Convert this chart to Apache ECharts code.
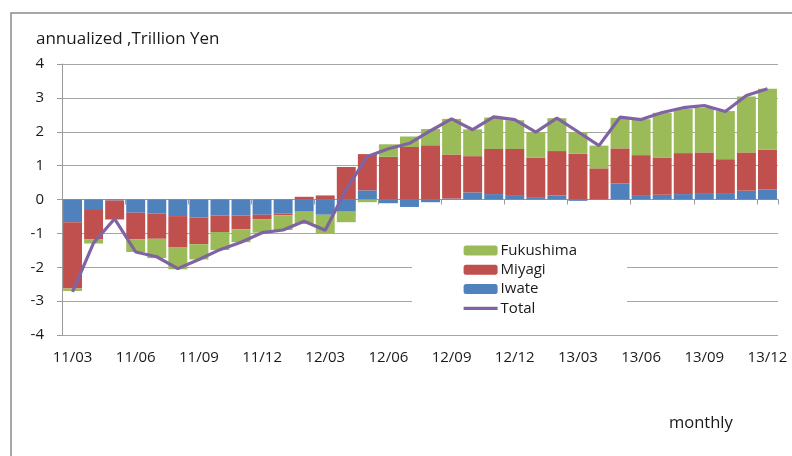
<!DOCTYPE html>
<html>
<head>
<meta charset="utf-8">
<script src="https://cdn.jsdelivr.net/npm/echarts@6/dist/echarts.min.js"></script>
<style>
html,body{margin:0;padding:0;background:#fff;}
#chart{width:792px;height:456px;}
</style>
</head>
<body>
<div id="chart"></div>
<script>
var categories = ['11/03','11/04','11/05','11/06','11/07','11/08','11/09','11/10','11/11','11/12',
  '12/01','12/02','12/03','12/04','12/05','12/06','12/07','12/08','12/09','12/10','12/11','12/12',
  '13/01','13/02','13/03','13/04','13/05','13/06','13/07','13/08','13/09','13/10','13/11','13/12'];

var iwate = [-0.67,-0.31,-0.03,-0.39,-0.41,-0.49,-0.53,-0.47,-0.47,-0.45,-0.41,-0.36,-0.45,-0.36,
  0.27,-0.11,-0.22,-0.08,0.03,0.21,0.16,0.13,0.07,0.12,-0.04,0,0.47,0.13,0.14,0.16,0.19,0.19,0.26,0.30];

var miyagi = [-1.96,-0.87,-0.56,-0.79,-0.75,-0.93,-0.79,-0.49,-0.41,-0.14,-0.06,0.08,0.12,0.96,
  1.07,1.26,1.55,1.60,1.30,1.07,1.33,1.36,1.16,1.31,1.35,0.92,1.04,1.18,1.10,1.21,1.20,1.00,1.13,1.17];

var fukushima = [-0.07,-0.12,0,-0.37,-0.57,-0.64,-0.45,-0.53,-0.38,-0.39,-0.43,-0.36,-0.54,-0.31,
  -0.08,0.37,0.31,0.48,1.05,0.79,0.93,0.85,0.76,0.97,0.64,0.67,0.90,1.06,1.32,1.30,1.31,1.42,1.65,1.80];

var total = [-2.73,-1.28,-0.57,-1.55,-1.69,-2.04,-1.77,-1.48,-1.26,-0.98,-0.90,-0.64,-0.91,0.30,
  1.27,1.50,1.66,2.03,2.38,2.06,2.44,2.36,1.99,2.40,2.00,1.59,2.43,2.36,2.57,2.71,2.77,2.60,3.07,3.27];

var yTicks = [-4,-3,-2,-1,0,1,2,3,4];

var FONT = 'Open Sans';
var chart = echarts.init(document.getElementById('chart'), null, {renderer:'canvas'});
var barCommon = {type:'bar', stack:'pref', barCategoryGap:'10%', xAxisIndex:0, yAxisIndex:0};
chart.setOption({
  animation:false,
  backgroundColor:'#ffffff',
  textStyle:{fontFamily:FONT},
  grid:{left:62, right:14, top:64, bottom:121, containLabel:false},
  graphic:[
    {type:'rect', shape:{x:11, y:13, width:800, height:460}, style:{fill:'none', stroke:'#8c8c8c', lineWidth:1.5}, z:-10},
    {type:'text', left:36, top:31, style:{text:'annualized ,Trillion Yen', font:'17px "Open Sans"', fill:'#1a1a1a'}},
    {type:'text', left:669, top:415, style:{text:'monthly', font:'16.5px "Open Sans"', fill:'#1a1a1a'}}
  ],
  legend:{
    orient:'vertical', left:412, top:239,
    padding:[4,50,6,50], backgroundColor:'#ffffff',
    itemWidth:34, itemHeight:10, itemGap:4.3,
    data:['Fukushima','Miyagi','Iwate',{name:'Total', itemStyle:{opacity:0}, lineStyle:{width:3.2, color:'#8064A2'}}],
    textStyle:{fontFamily:FONT, fontSize:15, color:'#1a1a1a', padding:[0,0,0,-2]},
    z:5
  },
  xAxis:[
    {type:'category', data:categories, position:'bottom',
     axisLine:{show:false, onZero:false}, axisTick:{show:false},
     axisLabel:{interval:2, margin:15, fontSize:15, color:'#1a1a1a', fontFamily:FONT},
     splitLine:{show:false}},
    {type:'category', data:categories, position:'bottom',
     axisLine:{show:true, onZero:true, lineStyle:{color:'#9a9a9a', width:1}},
     axisTick:{show:true, interval:2, length:5, inside:false, lineStyle:{color:'#9a9a9a'}},
     axisLabel:{show:false}, splitLine:{show:false}}
  ],
  yAxis:{
    type:'value', min:-4, max:4, interval:1,
    axisLine:{show:true, lineStyle:{color:'#9a9a9a', width:1}},
    axisTick:{show:true, length:5, lineStyle:{color:'#9a9a9a'}},
    axisLabel:{margin:18, fontSize:15, color:'#1a1a1a', fontFamily:FONT,
      formatter:function(v){return yTicks.indexOf(v)>=0 ? String(v) : '';}},
    splitLine:{show:true, lineStyle:{color:'#a6a6a6', width:1}}
  },
  series:[
    Object.assign({name:'Iwate', data:iwate, itemStyle:{color:'#4F81BD'}}, barCommon),
    Object.assign({name:'Miyagi', data:miyagi, itemStyle:{color:'#C0504D'}}, barCommon),
    Object.assign({name:'Fukushima', data:fukushima, itemStyle:{color:'#9BBB59'}}, barCommon),
    {name:'Total', type:'line', data:total, xAxisIndex:0, yAxisIndex:0, symbol:'none', showSymbol:false,
     lineStyle:{color:'#8064A2', width:3.2}, itemStyle:{color:'#8064A2'}, z:4}
  ]
});
</script>
</body>
</html>
